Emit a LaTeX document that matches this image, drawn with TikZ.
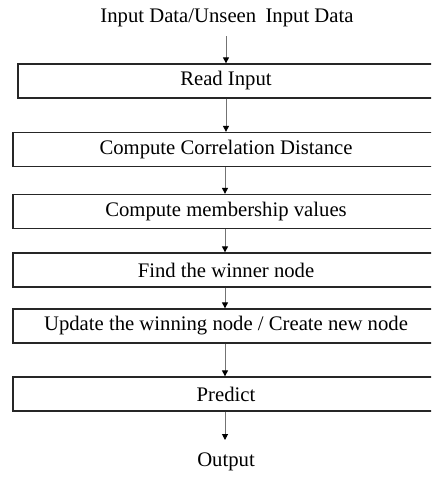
\documentclass[tikz,border=0pt]{standalone}
\usepackage{fontspec}
\setmainfont{Liberation Serif}
\usetikzlibrary{arrows.meta}
\begin{document}
\begin{tikzpicture}[x=1pt,y=-1pt,
  stepbox/.style={draw=black!85, line width=1.3pt, rectangle, inner sep=0pt,
    minimum height=34pt, font=\fontsize{20.7}{24}\selectfont},
  label/.style={inner sep=0pt, font=\fontsize{20.7}{24}\selectfont},
  flow/.style={draw=black!55, line width=1pt,
    -{Triangle[width=6pt,length=6pt,color=black]}}]
\useasboundingbox (0,0) rectangle (431,479);
\clip (0,0) rectangle (431,479);
\fill[white] (0,0) rectangle (431,479);

% title and output labels
\node[label] (in) at (227,18) {Input Data/Unseen\hspace{0.2em} Input Data};
\node[label] (out) at (226,462) {Output};

% processing steps (right edges run past the frame)
\node[stepbox, minimum width=424pt] (read) at (230,81)  {\hspace{-8pt}Read Input};
\node[stepbox, minimum width=432pt] (corr) at (229,149.5) {\hspace{-6pt}Compute Correlation Distance};
\node[stepbox, minimum width=432pt] (memb) at (229,211.5) {\hspace{-6pt}Compute membership values};
\node[stepbox, minimum width=432pt] (win)  at (229,270)  {\hspace{-6pt}Find the winner node};
\node[stepbox, minimum width=432pt] (upd)  at (229,326)  {\hspace{-6pt}Update the winning node / Create new node};
\node[stepbox, minimum width=432pt] (pred) at (229,394)  {\hspace{-6pt}Predict};

% connectors
\coordinate (a0) at (226,36);
\draw[flow] (a0) -- (a0 |- read.north);
\draw[flow] (226,0 |- read.south) -- (226,0 |- corr.north);
\draw[flow] (225,0 |- corr.south) -- (225,0 |- memb.north);
\draw[flow] (225,0 |- memb.south) -- (225,0 |- win.north);
\draw[flow] (225,0 |- win.south) -- (225,0 |- upd.north);
\draw[flow] (225,0 |- upd.south) -- (225,0 |- pred.north);
\coordinate (a7) at (225,440);
\draw[flow] (225,0 |- pred.south) -- (a7);
\end{tikzpicture}
\end{document}
